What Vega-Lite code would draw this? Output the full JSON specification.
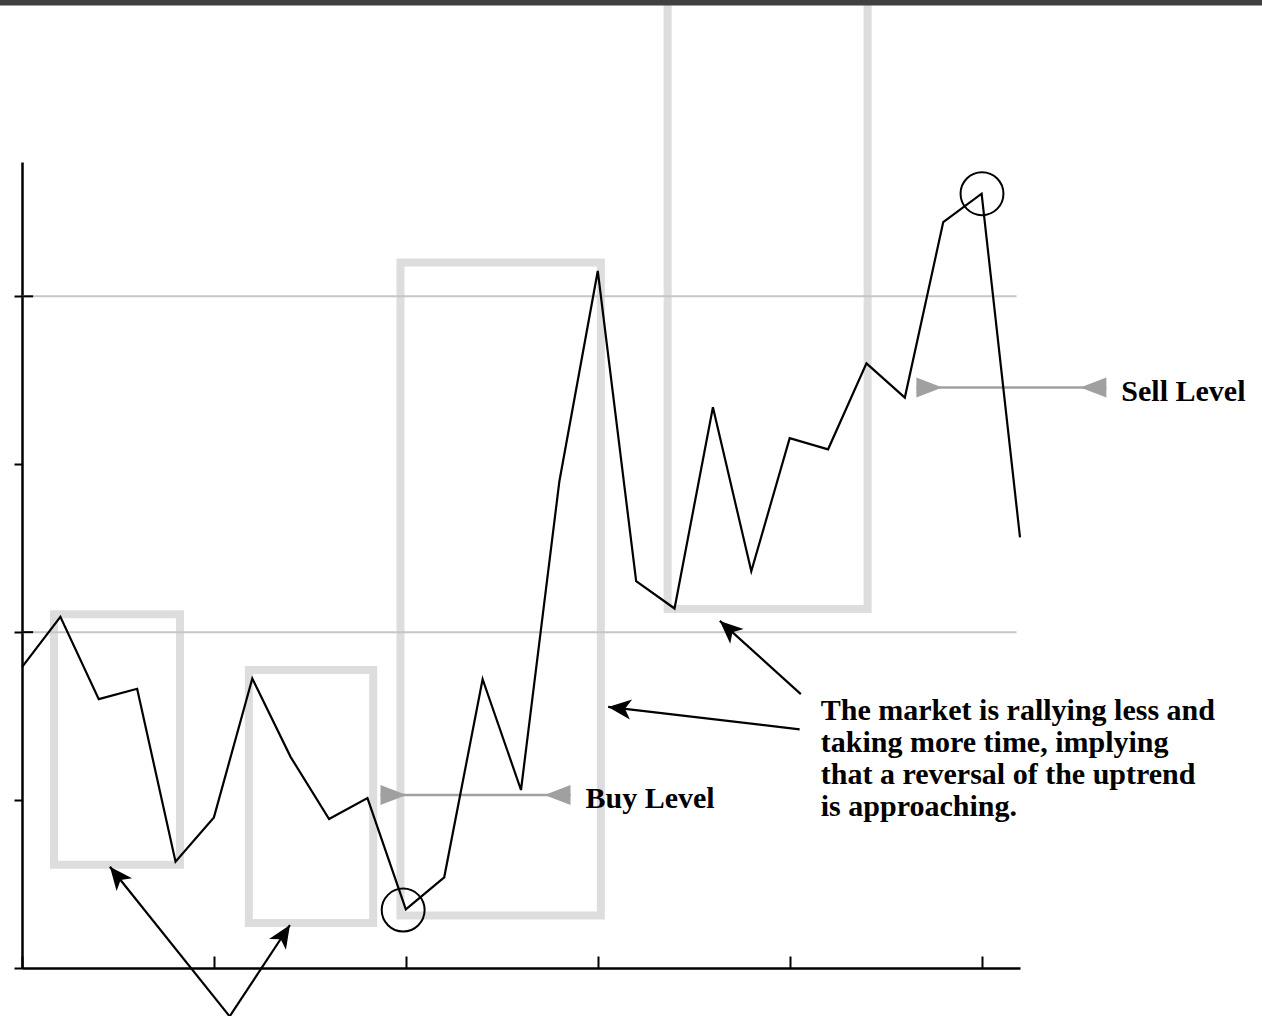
{
  "$schema": "https://vega.github.io/schema/vega-lite/v6.json",
  "width": 998,
  "height": 806,
  "autosize": {"type": "none"},
  "padding": {"left": 22, "top": 162, "right": 242, "bottom": 48},
  "background": "white",
  "config": {"view": {"stroke": null}},
  "datasets": {
    "price": [
      {"t": 0, "price": 17.92}, {"t": 1, "price": 20.91}, {"t": 2, "price": 16.01},
      {"t": 3, "price": 16.63}, {"t": 4, "price": 6.33}, {"t": 5, "price": 8.97},
      {"t": 6, "price": 17.24}, {"t": 7, "price": 12.56}, {"t": 8, "price": 8.87},
      {"t": 9, "price": 10.12}, {"t": 10, "price": 3.49}, {"t": 11, "price": 5.40},
      {"t": 12, "price": 17.20}, {"t": 13, "price": 10.60}, {"t": 14, "price": 28.99},
      {"t": 15, "price": 41.51}, {"t": 16, "price": 23.04}, {"t": 17, "price": 21.41},
      {"t": 18, "price": 33.39}, {"t": 19, "price": 23.63}, {"t": 20, "price": 31.55},
      {"t": 21, "price": 30.89}, {"t": 22, "price": 36.01}, {"t": 23, "price": 33.97},
      {"t": 24, "price": 44.42}, {"t": 25, "price": 46.11}, {"t": 26, "price": 25.65}
    ],
    "boxes": [
      {"t0": 0.833, "t1": 4.115, "p0": 6.15, "p1": 21.07},
      {"t0": 5.91, "t1": 9.15, "p0": 2.68, "p1": 17.74},
      {"t0": 9.86, "t1": 15.08, "p0": 3.13, "p1": 42.01},
      {"t0": 16.82, "t1": 22.03, "p0": 21.38, "p1": 62}
    ],
    "grid": [{"g": 20}, {"g": 40}],
    "levels": [
      {"label": "Buy Level", "from": 9.34, "to": 14.29, "level": 10.30},
      {"label": "Sell Level", "from": 23.30, "to": 28.25, "level": 34.57}
    ],
    "circles": [{"t": 9.93, "price": 3.45}, {"t": 25.01, "price": 46.11}],
    "arrows": [
      {"id": "a1", "x0": 5.41, "y0": -2.88, "x1": 2.29, "y1": 6.03},
      {"id": "a2", "x0": 5.41, "y0": -2.88, "x1": 6.98, "y1": 2.56},
      {"id": "a3", "x0": 20.29, "y0": 16.31, "x1": 18.18, "y1": 20.67},
      {"id": "a4", "x0": 20.26, "y0": 14.21, "x1": 15.27, "y1": 15.55}
    ],
    "note": [
      {"t": 20.81, "price": 14.76, "text": "The market is rallying less and\ntaking more time, implying\nthat a reversal of the uptrend\nis approaching."}
    ],
    "band": [{"x0": -1, "x1": 33, "y0": 57.32, "y1": 62}]
  },
  "layer": [
    {
      "data": {"name": "price"},
      "mark": {"type": "line", "color": "black", "strokeWidth": 2, "opacity": 0},
      "encoding": {
        "x": {"field": "t", "type": "quantitative", "scale": {"domain": [0, 26], "nice": false, "zero": false},
          "axis": {"title": null, "labels": false, "grid": false, "values": [0, 5, 10, 15, 20, 25], "tickSize": -12, "tickWidth": 2, "tickColor": "black", "domainColor": "black", "domainWidth": 2.5}},
        "y": {"field": "price", "type": "quantitative", "scale": {"domain": [0, 48], "nice": false, "zero": false},
          "axis": {"title": null, "labels": false, "grid": false, "values": [0, 10, 20, 30, 40], "tickSize": 8, "tickWidth": 2, "tickColor": "black", "domainColor": "black", "domainWidth": 2.5}}
      }
    },
    {
      "data": {"name": "boxes"},
      "mark": {"type": "rect", "filled": false, "stroke": "#dddddd", "strokeWidth": 8},
      "encoding": {
        "x": {"field": "t0", "type": "quantitative", "scale": {"domain": [0, 26], "nice": false, "zero": false}},
        "x2": {"field": "t1"},
        "y": {"field": "p0", "type": "quantitative", "scale": {"domain": [0, 48], "nice": false, "zero": false}},
        "y2": {"field": "p1"}
      }
    },
    {
      "data": {"name": "grid"},
      "mark": {"type": "rule", "color": "#c6c6c6", "strokeWidth": 2},
      "encoding": {
        "y": {"field": "g", "type": "quantitative", "scale": {"domain": [0, 48], "nice": false, "zero": false}},
        "x": {"datum": 0, "type": "quantitative", "scale": {"domain": [0, 26], "nice": false, "zero": false}},
        "x2": {"datum": 25.91}
      }
    },
    {
      "data": {"name": "grid"},
      "mark": {"type": "rule", "color": "black", "strokeWidth": 2},
      "encoding": {
        "y": {"field": "g", "type": "quantitative", "scale": {"domain": [0, 48], "nice": false, "zero": false}},
        "x": {"datum": 0, "type": "quantitative", "scale": {"domain": [0, 26], "nice": false, "zero": false}},
        "x2": {"datum": 0.29}
      }
    },
    {
      "data": {"name": "levels"},
      "mark": {"type": "rule", "color": "#a0a0a0", "strokeWidth": 2.5},
      "encoding": {
        "x": {"field": "from", "type": "quantitative", "scale": {"domain": [0, 26], "nice": false, "zero": false}},
        "x2": {"field": "to"},
        "y": {"field": "level", "type": "quantitative", "scale": {"domain": [0, 48], "nice": false, "zero": false}}
      }
    },
    {
      "data": {"name": "levels"},
      "mark": {"type": "point", "shape": "M0,-0.77L2,0L0,0.77Z", "size": 676, "filled": true, "fill": "#a0a0a0", "strokeWidth": 0, "opacity": 1},
      "encoding": {
        "x": {"field": "from", "type": "quantitative", "scale": {"domain": [0, 26], "nice": false, "zero": false}},
        "y": {"field": "level", "type": "quantitative", "scale": {"domain": [0, 48], "nice": false, "zero": false}}
      }
    },
    {
      "data": {"name": "levels"},
      "mark": {"type": "point", "shape": "M0,-0.77L-2,0L0,0.77Z", "size": 676, "filled": true, "fill": "#a0a0a0", "strokeWidth": 0, "opacity": 1},
      "encoding": {
        "x": {"field": "to", "type": "quantitative", "scale": {"domain": [0, 26], "nice": false, "zero": false}},
        "y": {"field": "level", "type": "quantitative", "scale": {"domain": [0, 48], "nice": false, "zero": false}}
      }
    },
    {
      "data": {"name": "levels"},
      "mark": {"type": "text", "font": "Liberation Serif", "fontWeight": "bold", "fontSize": 30, "color": "black", "align": "left", "baseline": "alphabetic", "dx": 15, "dy": 13},
      "encoding": {
        "x": {"field": "to", "type": "quantitative", "scale": {"domain": [0, 26], "nice": false, "zero": false}},
        "y": {"field": "level", "type": "quantitative", "scale": {"domain": [0, 48], "nice": false, "zero": false}},
        "text": {"field": "label", "type": "nominal"}
      }
    },
    {
      "data": {"name": "price"},
      "mark": {"type": "line", "color": "black", "strokeWidth": 2.2, "strokeJoin": "miter"},
      "encoding": {
        "x": {"field": "t", "type": "quantitative", "scale": {"domain": [0, 26], "nice": false, "zero": false}},
        "y": {"field": "price", "type": "quantitative", "scale": {"domain": [0, 48], "nice": false, "zero": false}}
      }
    },
    {
      "data": {"name": "circles"},
      "mark": {"type": "point", "shape": "circle", "size": 1840, "filled": false, "stroke": "black", "strokeWidth": 2, "opacity": 1},
      "encoding": {
        "x": {"field": "t", "type": "quantitative", "scale": {"domain": [0, 26], "nice": false, "zero": false}},
        "y": {"field": "price", "type": "quantitative", "scale": {"domain": [0, 48], "nice": false, "zero": false}}
      }
    },
    {
      "data": {"name": "arrows"},
      "mark": {"type": "rule", "color": "black", "strokeWidth": 2.2},
      "encoding": {
        "x": {"field": "x0", "type": "quantitative", "scale": {"domain": [0, 26], "nice": false, "zero": false}},
        "y": {"field": "y0", "type": "quantitative", "scale": {"domain": [0, 48], "nice": false, "zero": false}},
        "x2": {"field": "x1"},
        "y2": {"field": "y1"}
      }
    },
    {
      "data": {"name": "arrows"},
      "mark": {"type": "point", "size": 400, "filled": true, "fill": "black", "strokeWidth": 0, "opacity": 1},
      "encoding": {
        "x": {"field": "x1", "type": "quantitative", "scale": {"domain": [0, 26], "nice": false, "zero": false}},
        "y": {"field": "y1", "type": "quantitative", "scale": {"domain": [0, 48], "nice": false, "zero": false}},
        "shape": {"field": "id", "type": "nominal", "legend": null,
          "scale": {"domain": ["a1", "a2", "a3", "a4"],
            "range": ["M0,0L2.22,1.16L1.07,1.32L0.67,2.42Z", "M0,0L-0.40,2.48L-0.92,1.43L-2.08,1.40Z", "M0,0L2.38,0.80L1.26,1.14L1.04,2.28Z", "M0,0L2.40,-0.73L1.69,0.19L2.17,1.25Z"]}}
      }
    },
    {
      "data": {"name": "note"},
      "mark": {"type": "text", "font": "Liberation Serif", "fontWeight": "bold", "fontSize": 30, "color": "black", "align": "left", "baseline": "alphabetic", "lineBreak": "\n", "lineHeight": 32},
      "encoding": {
        "x": {"field": "t", "type": "quantitative", "scale": {"domain": [0, 26], "nice": false, "zero": false}},
        "y": {"field": "price", "type": "quantitative", "scale": {"domain": [0, 48], "nice": false, "zero": false}},
        "text": {"field": "text", "type": "nominal"}
      }
    },
    {
      "data": {"name": "band"},
      "mark": {"type": "rect", "color": "#404040"},
      "encoding": {
        "x": {"field": "x0", "type": "quantitative", "scale": {"domain": [0, 26], "nice": false, "zero": false}},
        "x2": {"field": "x1"},
        "y": {"field": "y0", "type": "quantitative", "scale": {"domain": [0, 48], "nice": false, "zero": false}},
        "y2": {"field": "y1"}
      }
    }
  ]
}
